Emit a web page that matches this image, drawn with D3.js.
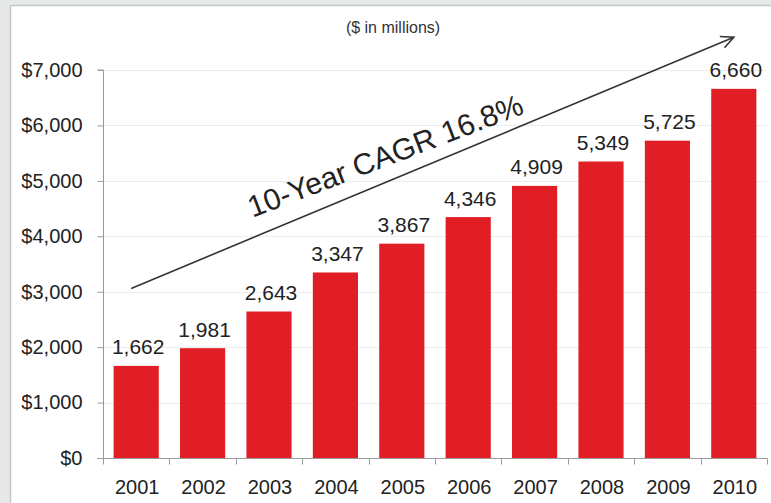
<!DOCTYPE html>
<html>
<head>
<meta charset="utf-8">
<script src="https://cdn.jsdelivr.net/npm/d3@7"></script>
<style>
  html, body { margin: 0; padding: 0; background: #e6e8ea; }
  svg { display: block; font-family: "Liberation Sans", Arial, sans-serif; }
</style>
</head>
<body>
<svg id="chart" width="771" height="503"></svg>
<script>
// Annual revenue, $ in millions
const years = ["2001", "2002", "2003", "2004", "2005", "2006", "2007", "2008", "2009", "2010"];
const revenue = [1662, 1981, 2643, 3347, 3867, 4346, 4909, 5349, 5725, 6660];
const yTicks = [0, 1000, 2000, 3000, 4000, 5000, 6000, 7000];
const unitNote = "($ in millions)";
const cagrLabel = "10-Year CAGR 16.8%";
// Trend arrow endpoints in data terms: [year, value]
const trendFrom = ["2001", 3060];
const trendTo = ["2010", 7590];

const W = 771, H = 503;
const margin = { left: 103, right: 4, top: 70, bottom: 45 };

const svg = d3.select("#chart");

// white panel
svg.append("rect")
  .attr("x", 10.5).attr("y", 5.5)
  .attr("width", W).attr("height", H)
  .attr("fill", "#ffffff")
  .attr("stroke", "#c4c6c8").attr("stroke-width", 1.5);

const x = d3.scaleBand()
  .domain(years)
  .range([margin.left, W - margin.right])
  .paddingInner(0.32).paddingOuter(0.16);

const y = d3.scaleLinear()
  .domain([0, 7000])
  .range([H - margin.bottom, margin.top]);

// gridlines
svg.append("g")
  .selectAll("line")
  .data(yTicks.filter(d => d > 0))
  .join("line")
  .attr("x1", margin.left).attr("x2", W - margin.right)
  .attr("y1", d => Math.round(y(d)) + 0.5).attr("y2", d => Math.round(y(d)) + 0.5)
  .attr("stroke", "#ececec").attr("stroke-width", 1);

// bars
svg.append("g")
  .selectAll("rect")
  .data(years.map((yr, i) => ({ yr, v: revenue[i] })))
  .join("rect")
  .attr("x", d => x(d.yr))
  .attr("y", d => y(d.v))
  .attr("width", x.bandwidth())
  .attr("height", d => y(0) - y(d.v))
  .attr("fill", "#e11d25");

// value labels
svg.append("g")
  .selectAll("text")
  .data(years.map((yr, i) => ({ yr, v: revenue[i] })))
  .join("text")
  .attr("transform", d => `translate(${x(d.yr) + x.bandwidth() / 2 + 2},${y(d.v) - 11.5}) scale(1.05,1)`)
  .attr("text-anchor", "middle")
  .attr("font-size", 20)
  .attr("fill", "#222")
  .text(d => d3.format(",")(d.v));

// y axis
const yAxis = d3.axisLeft(y)
  .tickValues(yTicks)
  .tickSize(6)
  .tickPadding(15)
  .tickFormat(d => "$" + d3.format(",")(d));
const gy = svg.append("g")
  .attr("transform", `translate(${margin.left + 0.5},0)`)
  .call(yAxis);
gy.select(".domain").attr("stroke", "#9a9a9a").attr("d", `M-6,${y(7000)}H0V${y(0)}`);
gy.selectAll(".tick line").attr("stroke", "#9a9a9a");
gy.selectAll(".tick text")
  .attr("font-size", 20).attr("fill", "#222")
  .attr("font-family", "Liberation Sans, Arial, sans-serif");

// x axis with ticks at band boundaries
const gx = svg.append("g").attr("transform", `translate(0,${y(0) + 0.5})`);
gx.append("line")
  .attr("x1", margin.left - 6).attr("x2", W - margin.right)
  .attr("stroke", "#9a9a9a");
const step = x.step();
const bounds = d3.range(years.length + 1).map(i => x.range()[0] + i * step);
gx.selectAll("line.tk")
  .data(bounds)
  .join("line").attr("class", "tk")
  .attr("x1", d => Math.round(d) + 0.5).attr("x2", d => Math.round(d) + 0.5)
  .attr("y1", 0).attr("y2", 6)
  .attr("stroke", "#9a9a9a");
gx.selectAll("text")
  .data(years)
  .join("text")
  .attr("x", d => x(d) + x.bandwidth() / 2 + 1)
  .attr("y", 35)
  .attr("text-anchor", "middle")
  .attr("font-size", 20)
  .attr("fill", "#222")
  .text(d => d);

// unit note
svg.append("text")
  .attr("x", 393).attr("y", 33)
  .attr("text-anchor", "middle")
  .attr("font-size", 16)
  .attr("fill", "#333")
  .text(unitNote);

// trend arrow
const x0 = x(trendFrom[0]) + x.bandwidth() / 2 - 5, y0 = y(trendFrom[1]);
const x1 = x(trendTo[0]) + x.bandwidth() / 2, y1 = y(trendTo[1]);
const ang = Math.atan2(y1 - y0, x1 - x0);
svg.append("line")
  .attr("x1", x0).attr("y1", y0).attr("x2", x1).attr("y2", y1)
  .attr("stroke", "#333").attr("stroke-width", 1.6);
const headLen = 14, headAng = 0.45;
svg.append("path")
  .attr("d", `M${x1 - headLen * Math.cos(ang - headAng)},${y1 - headLen * Math.sin(ang - headAng)}L${x1},${y1}L${x1 - headLen * Math.cos(ang + headAng)},${y1 - headLen * Math.sin(ang + headAng)}`)
  .attr("fill", "none").attr("stroke", "#333").attr("stroke-width", 1.6);

// CAGR label above the arrow, tilted slightly less than the arrow
const t = (389 - x0) / (x1 - x0);
const mx = x0 + (x1 - x0) * t;
const my = y0 + (y1 - y0) * t - 15.5;
svg.append("text")
  .attr("transform", `translate(${mx},${my}) rotate(-21)`)
  .attr("text-anchor", "middle")
  .attr("font-size", 30)
  .attr("fill", "#222")
  .text(cagrLabel);
</script>
</body>
</html>
